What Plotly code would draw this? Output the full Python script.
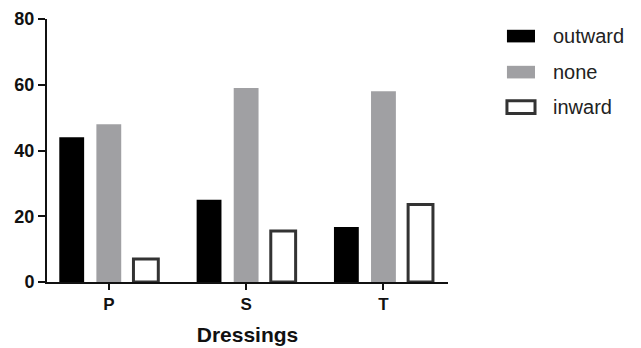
import plotly.graph_objects as go

categories = ["P", "S", "T"]
series_names = ["outward", "none", "inward"]
outward = [44, 25, 16.7]
none_vals = [48, 59, 58]
inward = [7, 15.5, 23.6]
y_ticks = [0, 20, 40, 60, 80]

fill_colors = ["#000000", "#a0a0a3", "#ffffff"]
line_colors = ["#000000", "#a0a0a3", "#333333"]
line_widths = [0, 0, 3]
values = [outward, none_vals, inward]

FONT = "Liberation Sans, Arial, sans-serif"

fig = go.Figure()
for name, vals, fc, lc, lw in zip(series_names, values, fill_colors, line_colors, line_widths):
    fig.add_trace(go.Bar(
        x=categories, y=vals, name=name,
        marker=dict(color=fc, line=dict(color=lc, width=lw)),
        showlegend=False,
    ))

# custom legend (swatches + labels)
leg_x0, leg_x1 = 1.147, 1.217
leg_y = [0.935, 0.798, 0.665]
sw_h = 0.048
for name, fc, lc, lw, yc in zip(series_names, fill_colors, line_colors, line_widths, leg_y):
    fig.add_shape(type="rect", xref="paper", yref="paper",
                  x0=leg_x0, x1=leg_x1, y0=yc - sw_h / 2, y1=yc + sw_h / 2,
                  fillcolor=fc, line=dict(color=lc, width=lw if lw else 0))
    fig.add_annotation(xref="paper", yref="paper", x=1.257, y=yc,
                       text=name, showarrow=False, xanchor="left", yanchor="middle",
                       font=dict(family=FONT, size=20, color="#222222"))

# page body has an 8px default margin, so the figure is sized to fit inside
fig.update_layout(
    width=633, height=340,
    margin=dict(l=39, r=193, t=11, b=66, autoexpand=False),
    paper_bgcolor="white", plot_bgcolor="white",
    barmode="group", bargap=0.19, bargroupgap=0.33,
    font=dict(family=FONT, color="#111111"),
    xaxis=dict(
        type="category", range=[-0.45, 2.47], automargin=False,
        showline=True, linecolor="#111111", linewidth=2,
        ticks="outside", ticklen=6, tickwidth=2, tickcolor="#111111",
        tickfont=dict(family=FONT, size=17, color="#111111", weight="bold"),
        title=dict(text="<b>Dressings</b>", font=dict(family=FONT, size=21, color="#111111"), standoff=14),
        showgrid=False, zeroline=False,
    ),
    yaxis=dict(
        range=[0, 80], tickvals=y_ticks, automargin=False,
        showline=True, linecolor="#111111", linewidth=2,
        ticks="outside", ticklen=7, tickwidth=2, tickcolor="#111111",
        tickfont=dict(family=FONT, size=18, color="#111111", weight="bold"),
        showgrid=False, zeroline=False,
    ),
)

fig.write_html("out.html")
